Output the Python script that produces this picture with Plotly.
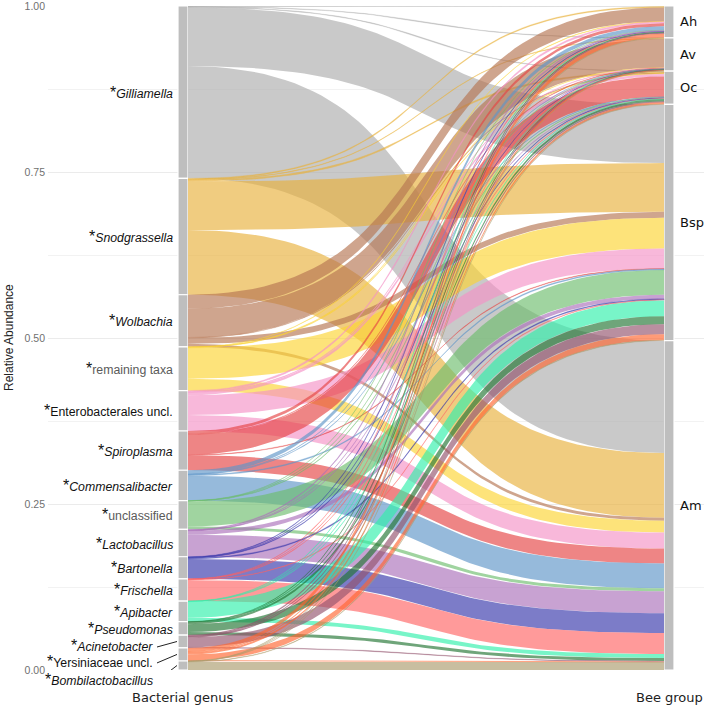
import plotly.graph_objects as go

# ---------------- data ----------------
genera = ["Gilliamella", "Snodgrassella", "Wolbachia", "remaining taxa",
          "Enterobacterales uncl.", "Spiroplasma", "Commensalibacter", "unclassified",
          "Lactobacillus", "Bartonella", "Frischella", "Apibacter", "Pseudomonas",
          "Acinetobacter", "Yersiniaceae uncl.", "Bombilactobacillus"]
italic = [True, True, True, False, False, True, True, False,
          True, True, True, True, True, True, False, True]
grey_label = [False, False, False, True, False, False, False, True,
              False, False, False, False, False, False, False, False]

bee_groups = ["Ah", "Av", "Oc", "Bsp", "Am"]

# mean abundance (%) of each genus within each bee group (per genus, same order as genera)
Ah = [0.08, 0.15, 2.10, 0.06, 0.22, 0.45, 0.60, 0.03, 0.15, 0.08, 0.05, 0.03, 0.03, 0.15, 0.60, 0.03]
Av = [0.06, 0.08, 4.35, 0.03, 0.08, 0.06, 0.03, 0.02, 0.03, 0.02, 0.02, 0.02, 0.02, 0.08, 0.09, 0.02]
Oc = [0.08, 0.22, 0.05, 0.08, 0.38, 3.07, 0.05, 0.08, 0.05, 0.08, 0.05, 0.05, 0.33, 0.12, 0.30, 0.03]
Bsp = [8.84, 7.34, 0.90, 4.64, 3.00, 0.08, 0.15, 3.75, 0.60, 0.15, 0.08, 2.40, 1.20, 1.50, 0.90, 0.08]
Am = [16.93, 9.74, 0.45, 1.80, 2.40, 2.25, 3.75, 0.45, 3.30, 3.00, 3.15, 0.60, 0.45, 0.08, 0.08, 1.20]
series = [Ah, Av, Oc, Bsp, Am]

colors = ["#ACACAC", "#E8B13C", "#B57551", "#FCD433", "#F492C6", "#E54343", "#5D95C8", "#6DBD6D",
          "#AA70BA", "#3535AA", "#FF6464", "#2FF0AA", "#227532", "#93536D", "#FF652F", "#AA9B6D"]
ALPHA = 0.65

# ---------------- geometry helpers ----------------
total = sum(sum(s) for s in series)
rel = [[v / total for v in s] for s in series]          # rel[b][g]
gen_tot = [sum(rel[b][g] for b in range(5)) for g in range(len(genera))]
bee_tot = [sum(rel[b]) for b in range(5)]

PX = 486.0                   # pixels per x unit
HALF = 5.0 / PX              # stratum half width
XL, XR = 1.0, 2.0
PY = 664.0                   # pixels per y unit


def rgba(hx, a):
    h = hx.lstrip("#")
    return "rgba(%d,%d,%d,%.2f)" % (int(h[0:2], 16), int(h[2:4], 16), int(h[4:6], 16), a)


gen_top = []
acc = 1.0
for t in gen_tot:
    gen_top.append(acc)
    acc -= t
bee_top = []
acc = 1.0
for t in bee_tot:
    bee_top.append(acc)
    acc -= t

left_pos = {}
for g in range(len(genera)):
    y = gen_top[g]
    for b in range(5):
        left_pos[(g, b)] = (y, y - rel[b][g])
        y -= rel[b][g]
right_pos = {}
for b in range(5):
    y = bee_top[b]
    for g in range(len(genera)):
        right_pos[(g, b)] = (y, y - rel[b][g])
        y -= rel[b][g]

x0 = XL + HALF
x1 = XR - HALF
C = 0.6
N = 60
us = [i / (N - 1) for i in range(N)]
bx = [3 * C * u * (1 - u) ** 2 + 3 * (1 - C) * u * u * (1 - u) + u ** 3 for u in us]
by = [3 * u * u * (1 - u) + u ** 3 for u in us]

fig = go.Figure()

for g in range(len(genera)):
    for b in range(5):
        v = rel[b][g]
        if v <= 0:
            continue
        lt, lb = left_pos[(g, b)]
        rt, rb = right_pos[(g, b)]
        xs_top = [x0 + (x1 - x0) * t for t in bx]
        ys_top = [lt + (rt - lt) * t for t in by]
        ys_bot = [lb + (rb - lb) * t for t in by]
        xs = xs_top + xs_top[::-1]
        ys = ys_top + ys_bot[::-1]
        px_h = v * PY
        lw = 0.5 if px_h < 1.5 else 0
        fig.add_trace(go.Scatter(
            x=xs, y=ys, mode="lines", fill="toself",
            fillcolor=rgba(colors[g], ALPHA),
            line=dict(color=rgba(colors[g], 0.55), width=lw),
            hoverinfo="skip", showlegend=False))

left_base = [gen_top[g] - gen_tot[g] for g in range(len(genera))]
right_base = [bee_top[b] - bee_tot[b] for b in range(5)]
fig.add_trace(go.Bar(x=[XL] * len(genera), y=gen_tot, base=left_base, width=2 * HALF,
                     marker=dict(color="#BEBEBE", line=dict(color="white", width=1.2)),
                     hoverinfo="skip", showlegend=False))
fig.add_trace(go.Bar(x=[XR] * 5, y=bee_tot, base=right_base, width=2 * HALF,
                     marker=dict(color="#BEBEBE", line=dict(color="white", width=1.2)),
                     hoverinfo="skip", showlegend=False))

annotations = []
shapes = []
LFONT = "Liberation Sans, Arial, sans-serif"
DFONT = "DejaVu Sans, sans-serif"

repel = {13: (-4, 20), 14: (-7, 20), 15: (-14, 20)}   # (yshift px, extra xshift px)
for g, name in enumerate(genera):
    yc = gen_top[g] - gen_tot[g] / 2
    body = "<i>%s</i>" % name if italic[g] else name
    if grey_label[g]:
        body = "<span style='color:#5a5a5a'>%s</span>" % body
    text = "<span style='font-size:16px'>*</span>" + body
    ysh, xsh = repel.get(g, (0, 0))
    annotations.append(dict(x=XL - HALF, y=yc, xref="x", yref="y", text=text,
                            showarrow=False, xanchor="right", yanchor="middle",
                            xshift=-3 - xsh, yshift=ysh,
                            font=dict(family=LFONT, size=12.3, color="#111111")))
    if g in repel:
        shapes.append(dict(type="line", xref="x", yref="y",
                           x0=XL - HALF - (xsh + 1) / PX, y0=yc + ysh / PY - 1.5 / PY,
                           x1=XL - HALF - 1 / PX, y1=yc,
                           line=dict(color="#222222", width=1)))

for b, name in enumerate(bee_groups):
    yc = bee_top[b] - bee_tot[b] / 2
    annotations.append(dict(x=XR + HALF, y=yc, xref="x", yref="y", text=name,
                            showarrow=False, xanchor="left", yanchor="middle", xshift=4,
                            font=dict(family=DFONT, size=13, color="#111111")))

annotations.append(dict(x=XL, y=0, xref="x", yref="y", text="Bacterial genus", showarrow=False,
                        xanchor="center", yanchor="middle", yshift=-27,
                        font=dict(family=DFONT, size=13, color="#222222")))
annotations.append(dict(x=XR, y=0, xref="x", yref="y", text="Bee group", showarrow=False,
                        xanchor="center", yanchor="middle", yshift=-27,
                        font=dict(family=DFONT, size=13, color="#222222")))
annotations.append(dict(x=0, y=0.5, xref="paper", yref="paper", text="Relative Abundance",
                        showarrow=False, xanchor="center", yanchor="middle", xshift=-39,
                        textangle=-90, font=dict(family=LFONT, size=12, color="#222222")))

fig.update_layout(
    width=704, height=707,
    margin=dict(l=48, r=0, t=6, b=37),
    paper_bgcolor="white", plot_bgcolor="white",
    barmode="overlay",
    showlegend=False,
    annotations=annotations,
    shapes=shapes,
    xaxis=dict(range=[1 - 135 / PX, 2 + 35 / PX], showgrid=False, zeroline=False,
               showticklabels=False, ticks="", fixedrange=True),
    yaxis=dict(range=[0, 1], tickvals=[0, 0.25, 0.5, 0.75, 1.0],
               ticktext=["0.00", "0.25", "0.50", "0.75", "1.00"],
               showgrid=True, gridcolor="#EBEBEB", gridwidth=1, zeroline=False,
               ticks="", ticklabelstandoff=2, ticklabeloverflow="allow",
               tickfont=dict(family=LFONT, size=10.5, color="#707070"),
               minor=dict(dtick=0.125, tick0=0, showgrid=True, gridcolor="#F2F2F2", gridwidth=1),
               fixedrange=True),
)

fig.write_html("out.html")
